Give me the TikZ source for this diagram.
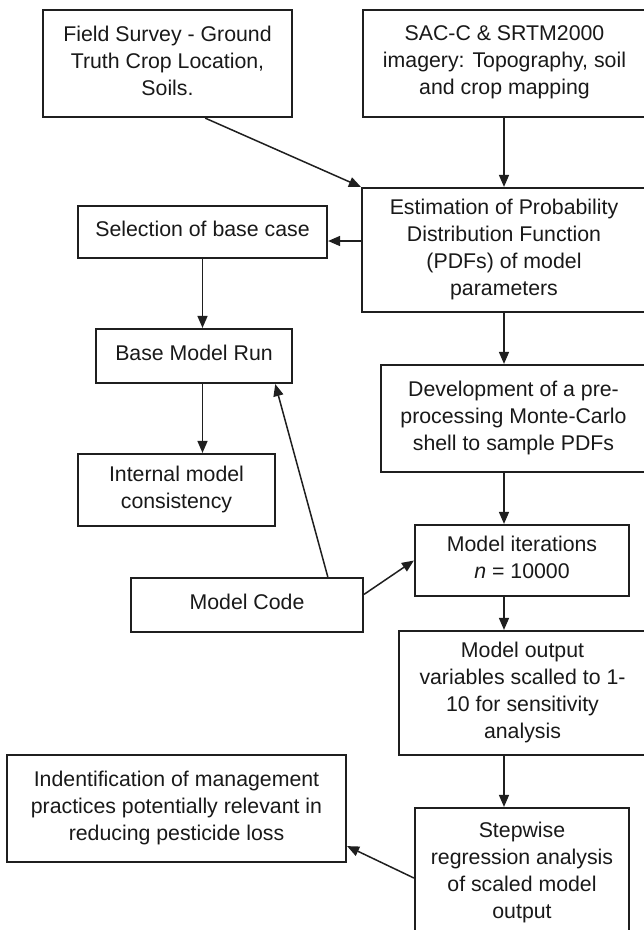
\documentclass[tikz,border=0pt]{standalone}
\usepackage{fontspec}
\setmainfont{Liberation Sans}
\usetikzlibrary{calc,arrows.meta}
\begin{document}
\begin{tikzpicture}[x=1pt,y=-1pt,
  box/.style={draw=black!88, line width=2.2pt, rectangle, inner sep=0pt, align=center,
    font=\fontsize{21.3}{27}\selectfont, text=black!90, text depth=6pt},
  arr/.style={draw=black!88, line width=1.5pt, -{Triangle[length=12pt,width=10pt]}}]
\useasboundingbox (0,0) rectangle (644,930);
\clip (0,0) rectangle (644,930);
\fill[white] (0,0) rectangle (644,930);
% boxes
\node[box, minimum width=249pt, minimum height=107pt] (field) at (167.5,63.5)
  {Field Survey - Ground\\Truth Crop Location,\\Soils.};
\node[box, minimum width=283pt, minimum height=107pt] (sac) at (504.5,63.5)
  {SAC-C \& SRTM2000\\imagery: Topography, soil\\and crop mapping};
\node[box, minimum width=284pt, minimum height=124pt] (est) at (504,250)
  {Estimation of Probability\\Distribution Function\\(PDFs) of model\\parameters};
\node[box, minimum width=249pt, minimum height=52pt] (sel) at (202.5,232)
  {Selection of base case};
\node[box, minimum width=196pt, minimum height=54pt] (base) at (194,356)
  {Base Model Run};
\node[box, minimum width=265pt, minimum height=107pt] (dev) at (513.5,418.5)
  {Development of a pre-\\processing Monte-Carlo\\shell to sample PDFs};
\node[box, minimum width=197pt, minimum height=72pt] (int) at (176.5,490)
  {Internal model\\consistency};
\node[box, minimum width=214pt, minimum height=71pt] (iter) at (522,560.5)
  {Model iterations\\\textit{n} = 10000};
\node[box, minimum width=232pt, minimum height=54pt] (code) at (247,605)
  {Model Code};
\node[box, minimum width=247pt, minimum height=124pt] (out) at (522.5,693)
  {Model output\\variables scalled to 1-\\10 for sensitivity\\analysis};
\node[box, minimum width=339pt, minimum height=107pt] (ident) at (176.5,808.5)
  {Indentification of management\\practices potentially relevant in\\reducing pesticide loss};
\node[box, minimum width=214pt, minimum height=130pt] (step) at (522,873)
  {Stepwise\\regression analysis\\of scaled model\\output};
% connectors
\draw[arr] ($(field.south west)!0.65!(field.south east)$) -- (est.north west);
\draw[arr] (est.north |- sac.south) -- (est.north);
\coordinate (selin) at ($(sel.east)+(0,9)$);
\draw[arr] (est.west |- selin) -- (selin);
\draw[arr] (sel.south) -- (sel.south |- base.north);
\draw[arr] (sel.south |- base.south) -- (sel.south |- int.north);
\draw[arr] ($(code.north west)!0.845!(code.north east)$) -- ($(base.south west)!0.91!(base.south east)$);
\draw[arr] ($(code.north east)!0.31!(code.south east)$) -- (iter.west);
\draw[arr] (est.south) -- (est.south |- dev.north);
\draw[arr] (est.south |- dev.south) -- (est.south |- iter.north);
\draw[arr] (est.south |- iter.south) -- (est.south |- out.north);
\draw[arr] (est.south |- out.south) -- (est.south |- step.north);
\draw[arr] ($(step.west)+(0,5)$) -- ($(ident.south east)+(0,-17)$);
\end{tikzpicture}
\end{document}
